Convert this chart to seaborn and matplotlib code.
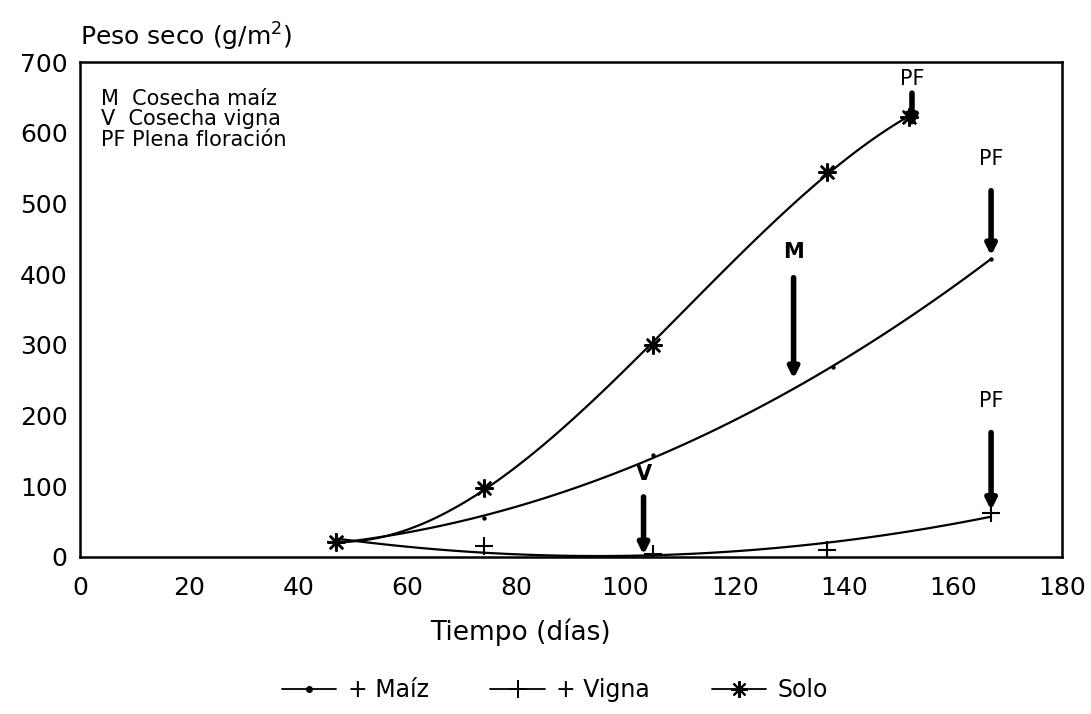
import matplotlib
matplotlib.use("Agg")
import matplotlib.pyplot as plt
import seaborn as sns
import numpy as np
import pandas as pd
from matplotlib.lines import Line2D

# ---- data ----
dias_solo = [47, 74, 105, 137, 152]
peso_solo = [21, 97, 300, 545, 622]

dias_maiz = [47, 74, 105, 138, 167]
peso_maiz = [21, 55, 144, 268, 422]

dias_vigna = [47, 74, 105, 137, 167]
peso_vigna = [21, 15, 4, 10, 62]

x_ticks = [0, 20, 40, 60, 80, 100, 120, 140, 160, 180]
y_ticks = [0, 100, 200, 300, 400, 500, 600, 700]

series_labels = ["+ Maíz", "+ Vigna", "Solo"]
notes = ["M  Cosecha maíz", "V  Cosecha vigna", "PF Plena floración"]

sns.set_style("white")
plt.rcParams["font.family"] = ["DejaVu Sans"]
plt.rcParams["text.color"] = "black"
plt.rcParams["axes.labelcolor"] = "black"
plt.rcParams["xtick.color"] = "black"
plt.rcParams["ytick.color"] = "black"

fig = plt.figure(figsize=(10.91, 7.14), dpi=100)
ax = fig.add_axes([80 / 1091, 1 - 557 / 714, (1062 - 80) / 1091, (557 - 62) / 714])

lkw = dict(color="black", lw=1.6)
sns.regplot(x=dias_solo, y=peso_solo, order=3, ci=None, scatter=False, ax=ax, line_kws=lkw)
sns.regplot(x=dias_maiz, y=peso_maiz, order=2, ci=None, scatter=False, ax=ax, line_kws=lkw)
sns.regplot(x=dias_vigna, y=peso_vigna, order=2, ci=None, scatter=False, ax=ax, line_kws=lkw)

sns.scatterplot(x=dias_solo, y=peso_solo, marker=(8, 2, 0), s=140, color="black",
                linewidth=1.8, ax=ax, zorder=5)
sns.scatterplot(x=dias_maiz, y=peso_maiz, marker="o", s=10, color="black",
                linewidth=0, ax=ax, zorder=5)
sns.scatterplot(x=dias_vigna, y=peso_vigna, marker="+", s=150, color="black",
                linewidth=1.5, ax=ax, zorder=5)

ax.set_xlim(0, 180)
ax.set_ylim(0, 700)
ax.set_xticks(x_ticks)
ax.set_yticks(y_ticks)
ax.set_xticklabels([str(t) for t in x_ticks])
ax.set_yticklabels([str(t) for t in y_ticks])
ax.tick_params(direction="in", length=7, width=1.1, labelsize=18, colors="black")
ax.tick_params(axis="y", pad=9)
ax.tick_params(axis="x", pad=14)
for s in ax.spines.values():
    s.set_color("black")
    s.set_linewidth(1.8)

# arrows and labels
def arrow(x, y0, y1):
    ax.annotate("", xy=(x, y1), xytext=(x, y0),
                arrowprops=dict(arrowstyle="-|>", lw=4, color="black",
                                mutation_scale=15, shrinkA=0, shrinkB=0))

arrow(152.5, 656, 607)
ax.text(152.5, 662, "PF", ha="center", va="bottom", fontsize=15)
arrow(167, 518, 426)
ax.text(167, 548, "PF", ha="center", va="bottom", fontsize=15)
arrow(167, 176, 66)
ax.text(167, 206, "PF", ha="center", va="bottom", fontsize=15)
arrow(130.8, 395, 252)
ax.text(130.8, 432, "M", ha="center", va="center", fontsize=15, fontweight="bold")
arrow(103.3, 85, 3)
ax.text(103.3, 117, "V", ha="center", va="center", fontsize=15, fontweight="bold")

for i, t in enumerate(notes):
    ax.text(3.8, 648 - i * 29, t, fontsize=15, va="center", ha="left")

fig.text(80 / 1091, 1 - 37 / 714, "Peso seco (g/m$^2$)", fontsize=18, ha="left", va="center")
fig.text(520 / 1091, 1 - 632 / 714, "Tiempo (días)", fontsize=19, ha="center", va="center")

handles = [
    Line2D([], [], color="black", lw=1.3, marker="o", markersize=4),
    Line2D([], [], color="black", lw=1.3, marker="+", markersize=13, markeredgewidth=1.4),
    Line2D([], [], color="black", lw=1.3, marker=(8, 2, 0), markersize=12, markeredgewidth=1.5),
]
fig.legend(handles, series_labels, loc="center", bbox_to_anchor=(555 / 1091, 1 - 690 / 714),
           ncol=3, frameon=False, fontsize=17, handlelength=2.3, columnspacing=2.6,
           handletextpad=0.5)

fig.savefig("out.png", dpi=100)
